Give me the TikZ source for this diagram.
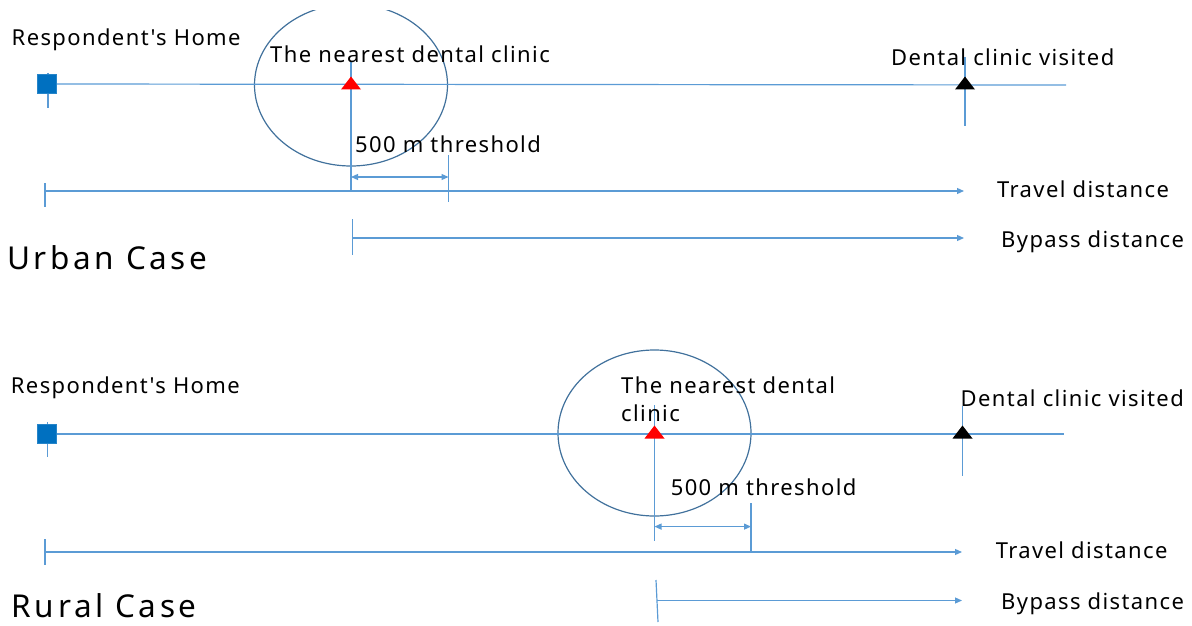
\documentclass[tikz,border=0pt]{standalone}
\usepackage{fontspec}
\newfontfamily\lblfont{Noto Sans}[LetterSpace=6.3]
\newfontfamily\bigfont{Noto Sans}[LetterSpace=11.5]
\usetikzlibrary{arrows.meta,calc}
\definecolor{lb}{HTML}{5B9BD5}
\definecolor{cb}{HTML}{41719C}
\definecolor{sqb}{HTML}{0070C0}
\begin{document}
\begin{tikzpicture}[x=1pt,y=-1pt,
  lbl/.style={inner sep=0, anchor=base west, font=\lblfont\fontsize{22}{26}\selectfont},
  big/.style={inner sep=0, anchor=base west, font=\bigfont\fontsize{31.5}{36}\selectfont},
  ln/.style={draw=lb, line width=1.2pt},
  arr/.style={ln, -{Triangle[length=7pt,width=6pt]}},
  darr/.style={ln, {Triangle[length=7pt,width=6pt]}-{Triangle[length=7pt,width=6pt]}},
  ring/.style={draw=cb, line width=1.2pt},
  home/.style={fill=sqb, draw=sqb!85!white, line width=0.6pt, minimum size=19pt, inner sep=0},
  site/.style={inner sep=0, minimum size=0pt}]
\useasboundingbox (0,0) rectangle (1192,626);

% ================= URBAN =================
\node[site] (un) at (351,85) {};
\node[site] (uv) at (965,85) {};
\coordinate (uh) at (47,84);
\coordinate (ue) at (1066,85);
\coordinate (unt) at (351,62);   \coordinate (unb) at (351,191);
\coordinate (uvt) at (965,57);   \coordinate (uvb) at (965,126);
\coordinate (uht) at (48,73);    \coordinate (uhb) at (48,108);
\coordinate (utt) at (448.5,155);\coordinate (utb) at (448.5,202);
\coordinate (ud1) at (351,177);  \coordinate (ud2) at (448.5,177);
\coordinate (ut0) at (45,191);   \coordinate (ut1) at (964,191);
\coordinate (ut0a) at (45,183);  \coordinate (ut0b) at (45,207);
\coordinate (ub0) at (352.5,238);\coordinate (ub1) at (964,238);
\coordinate (ub0a) at (352.5,219);\coordinate (ub0b) at (352.5,255);

\begin{scope}
\clip (0,11) rectangle (1192,626);
\draw[ring] (un.center) ellipse [x radius=96.5pt, y radius=81pt];
\end{scope}
\draw[ln] (uh) -- (ue);
\draw[ln] (uht) -- (uhb);
\draw[ln] (unt) -- (unb);
\draw[ln] (uvt) -- (uvb);
\draw[ln] (utt) -- (utb);
\draw[darr] (ud1) -- (ud2);
\draw[arr] (ut0) -- (ut1);
\draw[ln] (ut0a) -- (ut0b);
\draw[arr] (ub0) -- (ub1);
\draw[ln] (ub0a) -- (ub0b);
\node[home] (uhome) at (uh) {};
\fill[red] ([shift={(-10,4.5)}]un.center) -- ++(20,0) -- ++(-10,-13) -- cycle;
\fill[black] ([shift={(-10,4.5)}]uv.center) -- ++(20,0) -- ++(-10,-13) -- cycle;

\node[lbl] (uL1) at (11.5,46) {Respondent's Home};
\node[lbl] (uL2) at (270,62.7) {The nearest dental clinic};
\node[lbl] (uL3) at (355,152.7) {500 m threshold};
\node[lbl] (uL4) at (891,65.7) {Dental clinic visited};
\node[lbl] (uL5) at (997,197.3) {Travel distance};
\node[lbl] (uL6) at (1001,247.3) {Bypass distance};
\node[big] (uL7) at (7,269) {Urban Case};

% ================= RURAL =================
\node[site] (rn) at (654.5,434) {};
\node[site] (rv) at (962.5,434) {};
\coordinate (rh) at (47,434);
\coordinate (re) at (1064,434);
\coordinate (rnt) at (654.5,405);  \coordinate (rnb) at (654.5,541);
\coordinate (rvt) at (962.5,406);  \coordinate (rvb) at (962.5,475.5);
\coordinate (rht) at (47.8,422);   \coordinate (rhb) at (47.8,457);
\coordinate (rtt) at (751,503);    \coordinate (rtb) at (751,552);
\coordinate (rd1) at (654.5,526.6);\coordinate (rd2) at (751,526.6);
\coordinate (rt0) at (45,552);     \coordinate (rt1) at (962,552);
\coordinate (rt0a) at (45,539);    \coordinate (rt0b) at (45,565);
\coordinate (rb0) at (657,600.5);  \coordinate (rb1) at (962,600.5);
\coordinate (rb0a) at (656,580);   \coordinate (rb0b) at (658,622);

\draw[ring] (654.5,433) ellipse [x radius=96.5pt, y radius=83pt];
\draw[ln] (rh) -- (re);
\draw[ln] (rht) -- (rhb);
\draw[ln] (rnt) -- (rnb);
\draw[ln] (rvt) -- (rvb);
\draw[ln] (rtt) -- (rtb);
\draw[darr] (rd1) -- (rd2);
\draw[arr] (rt0) -- (rt1);
\draw[ln] (rt0a) -- (rt0b);
\draw[arr] (rb0) -- (rb1);
\draw[ln] (rb0a) -- (rb0b);
\node[home] (rhome) at (rh) {};
\fill[red] ([shift={(-10,4.5)}]rn.center) -- ++(20,0) -- ++(-10,-13) -- cycle;
\fill[black] ([shift={(-10,4.5)}]rv.center) -- ++(20,0) -- ++(-10,-13) -- cycle;

\node[lbl] (rL1) at (10.7,393.5) {Respondent's Home};
\node[lbl] (rL2a) at (621,393.5) {The nearest dental};
\node[lbl] (rL2b) at (621,421.7) {clinic};
\node[lbl] (rL3) at (670.6,495) {500 m threshold};
\node[lbl] (rL4) at (960.5,406.4) {Dental clinic visited};
\node[lbl] (rL5) at (995.6,558) {Travel distance};
\node[lbl] (rL6) at (1001,609.7) {Bypass distance};
\node[big] (rL7) at (11.5,617) {Rural Case};
\end{tikzpicture}
\end{document}
